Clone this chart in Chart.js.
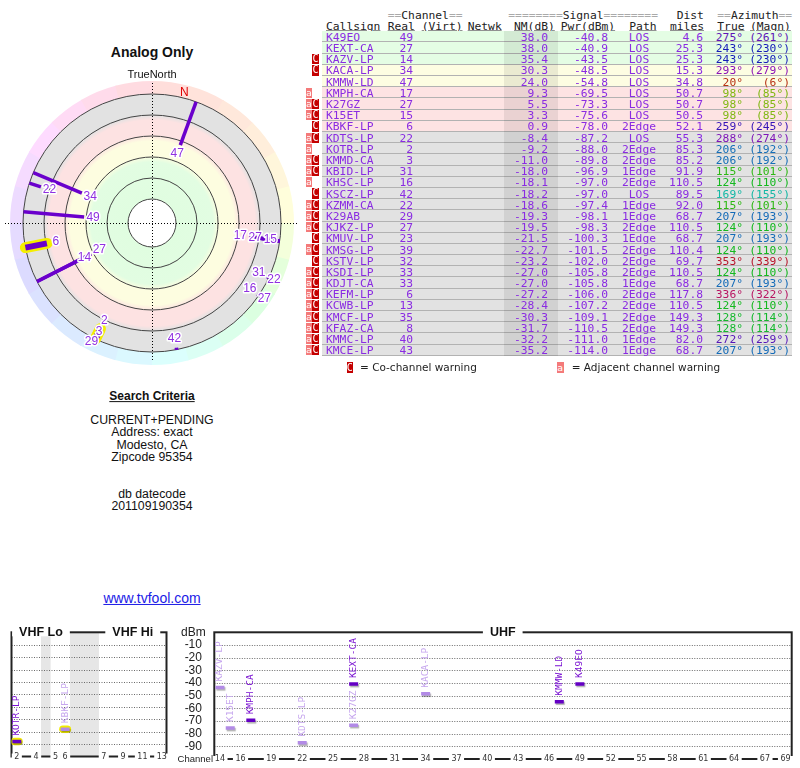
<!DOCTYPE html>
<html>
<head>
<meta charset="utf-8">
<title>Analog Only</title>
<script src="https://cdn.jsdelivr.net/npm/chart.js@4.4.1/dist/chart.umd.min.js"></script>
<style>
  body { margin:0; width:800px; height:768px; overflow:hidden; background:#fff; position:relative;
         font-family:"Liberation Sans", Arial, sans-serif; color:#111; }
  .abs { position:absolute; white-space:pre; line-height:1.15; }
  canvas { position:absolute; }
  .mono { font-family:"DejaVu Sans Mono", monospace; font-size:11.3px; }
</style>
</head>
<body>
<canvas id="radar" width="300" height="300" style="left:2px;top:73px"></canvas>
<canvas id="vhf" width="178" height="148" style="left:0px;top:620px"></canvas>
<canvas id="uhf" width="625" height="148" style="left:175px;top:620px"></canvas>
<script>
// ---- station table ----
const callsigns = ['K49EO','KEXT-CA','KAZV-LP','KACA-LP','KMMW-LD','KMPH-CA','K27GZ','K15ET','KBKF-LP','KDTS-LP',
  'KOTR-LP','KMMD-CA','KBID-LP','KHSC-LP','KSCZ-LP','KZMM-CA','K29AB','KJKZ-LP','KMUV-LP','KMSG-LP',
  'KSTV-LP','KSDI-LP','KDJT-CA','KEFM-LP','KCWB-LP','KMCF-LP','KFAZ-CA','KMMC-LP','KMCE-LP'];
const realCh = [49,27,14,34,47,17,27,15,6,22,2,3,31,16,42,22,29,27,23,39,32,33,33,6,13,35,8,40,43];
const nmDb = [38.0,38.0,35.4,30.3,24.0,9.3,5.5,3.3,0.9,-8.4,-9.2,-11.0,-18.0,-18.1,-18.2,-18.6,-19.3,-19.5,
  -21.5,-22.7,-23.2,-27.0,-27.0,-27.2,-28.4,-30.3,-31.7,-32.2,-35.2];
const pwrDbm = [-40.8,-40.9,-43.5,-48.5,-54.8,-69.5,-73.3,-75.6,-78.0,-87.2,-88.0,-89.8,-96.9,-97.0,-97.0,-97.4,
  -98.1,-98.3,-100.3,-101.5,-102.0,-105.8,-105.8,-106.0,-107.2,-109.1,-110.5,-111.0,-114.0];
const paths = ['LOS','LOS','LOS','LOS','LOS','LOS','LOS','LOS','2Edge','LOS','2Edge','2Edge','1Edge','2Edge','LOS',
  '1Edge','1Edge','2Edge','1Edge','2Edge','2Edge','2Edge','1Edge','2Edge','2Edge','2Edge','2Edge','1Edge','1Edge'];
const distMi = [4.6,25.3,25.3,15.3,34.8,50.7,50.7,50.5,52.1,55.3,85.3,85.2,91.9,110.5,89.5,92.0,68.7,110.5,68.7,
  110.4,69.7,110.5,68.7,117.8,110.5,149.3,149.3,82.0,68.7];
const azTrue = [275,243,243,293,20,98,98,98,259,288,206,206,115,124,169,115,207,124,207,124,353,124,207,336,124,128,128,272,207];
const azMagn = [261,230,230,279,6,85,85,85,245,274,192,192,101,110,155,101,193,110,193,110,339,110,193,322,110,114,114,259,193];
const adjWarn = [0,0,0,0,0,1,1,1,0,1,1,1,1,1,0,1,1,1,0,1,0,1,1,1,1,1,1,1,1];
const coWarn  = [0,0,1,1,0,0,1,1,1,1,0,1,1,0,1,1,1,1,1,1,1,1,1,1,1,1,1,1,1];

// radar rings (noise margin dB) and spectrum axes
const RING_NM = [80, 60, 40, 20, 0, -20];
const SPEC_MIN_NM = -10;
const vhfTicks = [2,4,5,6,7,9,11,13];
const uhfTicks = [14,16,19,22,25,28,31,34,37,40,43,46,49,52,55,58,61,64,67,69];
const dbmTicks = [-10,-20,-30,-40,-50,-60,-70,-80,-90];

// ---- helpers ----
const PURPLE = '#8a2be2';
function put(text, x, y, css, align, html) {
  const d = document.createElement('div');
  d.className = 'abs';
  if (html) d.innerHTML = text; else d.textContent = text;
  d.style.left = x + 'px';
  d.style.top = y + 'px';
  const tx = align === 'r' ? '-100%' : align === 'c' ? '-50%' : '0';
  d.style.transform = 'translate(' + tx + ',-50%)';
  if (css) d.style.cssText += css;
  document.body.appendChild(d);
  return d;
}
function box(x, y, w, h, css) {
  const d = document.createElement('div');
  d.style.cssText = 'position:absolute;left:' + x + 'px;top:' + y + 'px;width:' + w + 'px;height:' + h + 'px;' + css;
  document.body.appendChild(d);
  return d;
}
function azHue(az) {
  const m = [[0,0],[45,25],[90,65],[120,120],[180,185],[240,235],[300,290],[360,360]];
  for (let i = 1; i < m.length; i++) {
    if (az <= m[i][0]) {
      const t = (az - m[i-1][0]) / (m[i][0] - m[i-1][0]);
      return m[i-1][1] + t * (m[i][1] - m[i-1][1]);
    }
  }
  return 0;
}
function rowColor(nm) {
  if (nm >= 35) return '#e4fde4';
  if (nm >= 15) return '#fdfde2';
  if (nm >= 0) return '#fde3e3';
  return '#e2e2e2';
}

// ---- left column texts ----
const LC = 152;
put('Analog Only', LC, 51.5, 'font-weight:bold;font-size:14px;', 'c');
put('TrueNorth', LC, 74, 'font-size:11px;', 'c');
put('Search Criteria', LC, 397, 'font-weight:bold;font-size:12px;text-decoration:underline;', 'c');
['CURRENT+PENDING','Address: exact','Modesto, CA','Zipcode 95354'].forEach((t, i) =>
  put(t, LC, 420 + i * 12.45, 'font-size:12.3px;', 'c'));
put('db datecode', LC, 494, 'font-size:12.3px;', 'c');
put('201109190354', LC, 506.3, 'font-size:12.3px;', 'c');
put('www.tvfool.com', LC, 598, 'font-size:14px;color:#1a1ae6;text-decoration:underline;', 'c');

// ---- station table ----
const ROW_TOP = 31.3, ROW_H = 11.19;
const eq = s => '<span style="color:#aaa">' + s + '</span>';
const H1 = 14.7, H2 = 25.7;
const hcss = 'color:#222;';
put(eq('==') + 'Channel' + eq('=='), 387.7, H1, hcss, 'l', true).classList.add('mono');
put(eq('========') + 'Signal' + eq('========'), 508.3, H1, hcss, 'l', true).classList.add('mono');
put('Dist', 676.7, H1, hcss, 'l').classList.add('mono');
put(eq('==') + 'Azimuth' + eq('=='), 717.3, H1, hcss, 'l', true).classList.add('mono');
[['Callsign',326],['Real',387.7],['(Virt)',421.7],['Netwk',467.7],['NM(dB)',514],['Pwr(dBm)',560.7],
 ['Path',629.3],['miles',670],['True',717.3],['(Magn)',750]].forEach(([t, x]) =>
  put(t, x, H2, hcss + 'text-decoration:underline;', 'l').classList.add('mono'));

callsigns.forEach((cs, i) => {
  const top = ROW_TOP + i * ROW_H;
  box(322, top, 470, ROW_H, 'box-sizing:border-box;border-bottom:1px solid #b2b2b2;background:' + rowColor(nmDb[i]) + ';');
});
box(504, ROW_TOP, 54, callsigns.length * ROW_H, 'background:rgba(0,0,0,0.075);');
callsigns.forEach((cs, i) => {
  const top = ROW_TOP + i * ROW_H, yc = top + ROW_H / 2;
  const tcol = 'color:' + PURPLE + ';';
  const azc = 'color:hsl(' + azHue(azTrue[i]).toFixed(0) + ',80%,40%);';
  put(cs, 326, yc, tcol, 'l').classList.add('mono');
  put(String(realCh[i]), 413, yc, tcol, 'r').classList.add('mono');
  put(nmDb[i].toFixed(1), 548, yc, tcol, 'r').classList.add('mono');
  put(pwrDbm[i].toFixed(1), 608, yc, tcol, 'r').classList.add('mono');
  put(paths[i], 639, yc, tcol, 'c').classList.add('mono');
  put(distMi[i].toFixed(1), 703, yc, tcol, 'r').classList.add('mono');
  put(azTrue[i] + '\u00b0', 743, yc, azc, 'r').classList.add('mono');
  put('(' + azMagn[i] + '\u00b0)', 790, yc, azc, 'r').classList.add('mono');
  if (adjWarn[i]) box(305.5, top + 0.5, 6.5, ROW_H - 1, 'background:#f47a7a;color:#fff;font:9.5px "DejaVu Sans Mono";line-height:' + (ROW_H - 1) + 'px;text-align:center;').textContent = 'a';
  if (coWarn[i]) box(312, top + 0.5, 7, ROW_H - 1, 'background:#c40000;color:#fff;font:10px "DejaVu Sans Mono";line-height:' + (ROW_H - 1) + 'px;text-align:center;').textContent = 'C';
});
box(346.7, 361.5, 6.3, 11, 'background:#c40000;color:#fff;font:10px "DejaVu Sans Mono";line-height:11px;text-align:center;').textContent = 'C';
put('= Co-channel warning', 360, 367, 'font-family:"DejaVu Sans";font-size:10.5px;color:#222;', 'l');
box(556.7, 361.5, 7, 11, 'background:#f47a7a;color:#fff;font:9.5px "DejaVu Sans Mono";line-height:11px;text-align:center;').textContent = 'a';
put('= Adjacent channel warning', 571.7, 367, 'font-family:"DejaVu Sans";font-size:10.5px;color:#222;', 'l');

// ---- radar plot ----
const INNER_NM = RING_NM[0], OUTER_NM = RING_NM[RING_NM.length - 1];
const INNER_R = 24, OUTER_R = 129, RIM_R = 142;
function radiusOf(nm) { return INNER_R + (INNER_NM - nm) * (OUTER_R - INNER_R) / (INNER_NM - OUTER_NM); }
function polar(nm, az) {
  const r = radiusOf(nm), a = az * Math.PI / 180;
  return { x: r * Math.sin(a), y: r * Math.cos(a) };
}
const LINE_PURPLE = '#6a00cc';
const radarSets = [];
callsigns.forEach((cs, i) => {
  if (nmDb[i] < OUTER_NM) return;
  const pts = [polar(nmDb[i], azTrue[i]), polar(OUTER_NM, azTrue[i])];
  const lo = realCh[i] <= 6;
  radarSets.push({ data: pts, showLine: true, pointRadius: 0, borderColor: LINE_PURPLE,
    borderWidth: lo ? 6 : 3.5, order: 1 });
  if (lo) radarSets.push({ data: pts, showLine: true, pointRadius: 0, borderColor: '#f4ee00',
    borderWidth: 11, borderCapStyle: 'round', order: 2 });
});

const radarBackdrop = {
  id: 'radarBackdrop',
  beforeDatasetsDraw(chart) {
    const { ctx, scales: { x, y } } = chart;
    const cx = x.getPixelForValue(0), cy = y.getPixelForValue(0);
    const k = x.getPixelForValue(1) - cx;
    const rad = d => (d - 90) * Math.PI / 180;
    ctx.save();
    for (let a = 0; a < 360; a += 15) {
      ctx.beginPath();
      ctx.arc(cx, cy, RIM_R * k, rad(a), rad(a + 15.5));
      ctx.arc(cx, cy, OUTER_R * k, rad(a + 15.5), rad(a), true);
      ctx.closePath();
      ctx.fillStyle = 'hsl(' + azHue(a + 7.5).toFixed(0) + ',100%,93%)';
      ctx.fill();
    }
    const f = r => (r - INNER_R) / (OUTER_R - INNER_R);
    const g = ctx.createRadialGradient(cx, cy, INNER_R * k, cx, cy, OUTER_R * k);
    g.addColorStop(0, '#e0fde0');
    g.addColorStop(f(61), '#e2fde2');
    g.addColorStop(f(67), '#fdfde0');
    g.addColorStop(f(82), '#fdfde0');
    g.addColorStop(f(88), '#fde2e2');
    g.addColorStop(f(103), '#fde2e2');
    g.addColorStop(f(108), '#e2e2e2');
    g.addColorStop(1, '#e2e2e2');
    ctx.beginPath();
    ctx.arc(cx, cy, OUTER_R * k, 0, 2 * Math.PI);
    ctx.arc(cx, cy, INNER_R * k, 0, 2 * Math.PI, true);
    ctx.fillStyle = g;
    ctx.fill();
    ctx.strokeStyle = '#444';
    ctx.lineWidth = 1;
    RING_NM.forEach(nm => {
      ctx.beginPath();
      ctx.arc(cx, cy, radiusOf(nm) * k, 0, 2 * Math.PI);
      ctx.stroke();
    });
    ctx.setLineDash([1, 2]);
    ctx.strokeStyle = '#000';
    ctx.beginPath();
    ctx.moveTo(cx - 147 * k, cy + 0.5); ctx.lineTo(cx + 145 * k, cy + 0.5);
    ctx.moveTo(cx + 0.5, cy - 140 * k); ctx.lineTo(cx + 0.5, cy + 138 * k);
    ctx.stroke();
    ctx.restore();
  },
  afterDatasetsDraw(chart) {
    const { ctx, scales: { x, y } } = chart;
    const cx = x.getPixelForValue(0), cy = y.getPixelForValue(0);
    const k = x.getPixelForValue(1) - cx;
    ctx.save();
    ctx.font = '12px "Liberation Sans", Arial, sans-serif';
    ctx.textAlign = 'center';
    ctx.textBaseline = 'middle';
    ctx.lineJoin = 'round';
    // magnetic north marker
    const decl = azTrue[0] - azMagn[0];
    const nr = (OUTER_R + 5) * k, na = decl * Math.PI / 180;
    ctx.fillStyle = '#e00000';
    ctx.fillText('N', cx + nr * Math.sin(na), cy - nr * Math.cos(na));
    // channel labels at the tips, pushed outward when they collide
    const idx = callsigns.map((_, i) => i).filter(i => nmDb[i] >= OUTER_NM)
      .sort((a, b) => nmDb[b] - nmDb[a]);
    const placed = [];
    idx.forEach(i => {
      const txt = String(realCh[i]);
      const w = ctx.measureText(txt).width + 1, h = 10;
      const a = azTrue[i] * Math.PI / 180;
      let r = radiusOf(nmDb[i]) - 9, px, py;
      for (let n = 0; n < 80; n++) {
        px = cx + r * k * Math.sin(a);
        py = cy - r * k * Math.cos(a);
        if (!placed.some(b => Math.abs(b.x - px) < (b.w + w) / 2 && Math.abs(b.y - py) < (b.h + h) / 2)) break;
        r += 1;
      }
      placed.push({ x: px, y: py, w, h });
      ctx.lineWidth = 3;
      ctx.strokeStyle = '#fff';
      ctx.strokeText(txt, px, py);
      ctx.fillStyle = '#9030e0';
      ctx.fillText(txt, px, py);
    });
    ctx.restore();
  }
};

new Chart(document.getElementById('radar'), {
  type: 'scatter',
  data: { datasets: radarSets },
  options: {
    responsive: false, animation: false, events: [],
    layout: { padding: 0 },
    plugins: { legend: { display: false }, tooltip: { enabled: false } },
    scales: {
      x: { type: 'linear', min: -150, max: 150, display: false },
      y: { type: 'linear', min: -150, max: 150, display: false }
    }
  },
  plugins: [radarBackdrop]
});

// ---- spectrum panels ----
function vhfSlot(ch) { return ch <= 4 ? ch - 2 : ch <= 6 ? ch - 1 : ch + 2; }
const specVhf = [], specUhf = [];
callsigns.forEach((cs, i) => {
  if (nmDb[i] < SPEC_MIN_NM) return;
  const ch = realCh[i];
  const pt = { x: ch <= 13 ? vhfSlot(ch) : ch, y: pwrDbm[i], name: cs, strong: !coWarn[i], lo: ch <= 6 };
  (ch <= 13 ? specVhf : specUhf).push(pt);
});
function specDatasets(pts) {
  return [
    { data: pts.filter(p => p.lo), pointStyle: 'line', pointRadius: 2.2, borderWidth: 7.5,
      borderColor: '#f2ec00', backgroundColor: '#f2ec00', roundCap: true, order: 3 },
    { data: pts.filter(p => !p.strong), pointStyle: 'line', pointRadius: 4.5, borderWidth: 3.5,
      borderColor: '#b28ae6', backgroundColor: '#b28ae6', shadow: true, labelColor: '#c6a6ee', order: 2 },
    { data: pts.filter(p => p.strong), pointStyle: 'line', pointRadius: 4.5, borderWidth: 3.5,
      borderColor: '#6400c4', backgroundColor: '#6400c4', shadow: true, labelColor: '#7a12d2', order: 1 }
  ];
}

function spectrumPlugin(cfg) {
  return {
    id: 'spectrum_' + cfg.name,
    beforeDatasetsDraw(chart) {
      const { ctx, chartArea: ca, scales: { x, y } } = chart;
      ctx.save();
      ctx.fillStyle = '#e6e6e6';
      cfg.gaps.forEach(([a, b]) => {
        const x0 = x.getPixelForValue(a), x1 = x.getPixelForValue(b);
        ctx.fillRect(x0, ca.top, x1 - x0, ca.bottom - ca.top);
      });
      ctx.strokeStyle = '#6a6a6a';
      ctx.lineWidth = 1;
      ctx.setLineDash([1, 1.5]);
      dbmTicks.forEach(v => {
        const py = Math.round(y.getPixelForValue(v)) + 0.5;
        ctx.beginPath(); ctx.moveTo(ca.left, py); ctx.lineTo(ca.right, py); ctx.stroke();
      });
      ctx.setLineDash([]);
      ctx.strokeStyle = '#222';
      ctx.lineWidth = 2;
      ctx.strokeRect(ca.left, ca.top, ca.right - ca.left, ca.bottom - ca.top);
      ctx.textAlign = 'center';
      ctx.textBaseline = 'middle';
      ctx.font = 'bold 12.5px "Liberation Sans", Arial, sans-serif';
      cfg.titles.forEach(t => {
        const px = (x.getPixelForValue(t.from) + x.getPixelForValue(t.to)) / 2;
        const w = ctx.measureText(t.text).width;
        ctx.fillStyle = '#fff';
        ctx.fillRect(px - w / 2 - 7, ca.top - 4, w + 14, 8);
        ctx.fillStyle = '#111';
        ctx.fillText(t.text, px, ca.top + 0.5);
      });
      ctx.font = '8px "DejaVu Sans", sans-serif';
      cfg.ticks.forEach(ch => {
        const px = x.getPixelForValue(cfg.pos(ch));
        const w = ctx.measureText(String(ch)).width;
        ctx.fillStyle = '#fff';
        ctx.fillRect(px - w / 2 - 2.5, ca.bottom - 3, w + 5, 6);
        ctx.fillStyle = '#333';
        ctx.fillText(String(ch), px, ca.bottom);
      });
      if (cfg.yLabels) {
        const lx = ca.left - 21;
        ctx.font = '12px "Liberation Sans", Arial, sans-serif';
        ctx.fillStyle = '#222';
        ctx.fillText('dBm', lx, ca.top + 0.5);
        dbmTicks.forEach(v => ctx.fillText(String(v), lx, y.getPixelForValue(v)));
        ctx.font = '9.5px "Liberation Sans", Arial, sans-serif';
        ctx.fillText('Channel', ca.left - 19, ca.bottom);
      }
      ctx.restore();
    },
    beforeDatasetDraw(chart, args) {
      const ds = chart.data.datasets[args.index], ctx = chart.ctx;
      ctx.save();
      if (ds.shadow) {
        ctx.shadowColor = 'rgba(0,0,0,0.3)';
        ctx.shadowOffsetX = 1; ctx.shadowOffsetY = 1.5; ctx.shadowBlur = 1;
      }
      if (ds.roundCap) ctx.lineCap = 'round';
    },
    afterDatasetDraw(chart) { chart.ctx.restore(); },
    afterDatasetsDraw(chart) {
      const { ctx, scales: { x, y } } = chart;
      ctx.save();
      ctx.font = '9.5px "DejaVu Sans Mono", monospace';
      ctx.textAlign = 'left';
      ctx.textBaseline = 'middle';
      chart.data.datasets.forEach(ds => {
        if (!ds.labelColor) return;
        ds.data.forEach(p => {
          ctx.save();
          ctx.translate(x.getPixelForValue(p.x), y.getPixelForValue(p.y) - 6);
          ctx.rotate(-Math.PI / 2);
          ctx.fillStyle = ds.labelColor;
          ctx.fillText(p.name, 0, 0);
          ctx.restore();
        });
      });
      ctx.restore();
    }
  };
}

function specChart(id, pts, xMin, xMax, pad, cfg) {
  return new Chart(document.getElementById(id), {
    type: 'scatter',
    data: { datasets: specDatasets(pts) },
    options: {
      responsive: false, animation: false, events: [],
      layout: { padding: pad },
      plugins: { legend: { display: false }, tooltip: { enabled: false } },
      scales: {
        x: { type: 'linear', min: xMin, max: xMax, display: false },
        y: { type: 'linear', min: -100, max: 0, display: false }
      }
    },
    plugins: [spectrumPlugin(cfg)]
  });
}

specChart('vhf', specVhf, -0.55, 15.49, { left: 7, right: 4.7, top: 12.3, bottom: 9 }, {
  name: 'vhf',
  gaps: [[vhfSlot(4) + 0.5, vhfSlot(5) - 0.5], [vhfSlot(6) + 0.5, vhfSlot(7) - 0.5]],
  titles: [{ text: 'VHF Lo', from: vhfSlot(2), to: vhfSlot(6) }, { text: 'VHF Hi', from: vhfSlot(7), to: vhfSlot(13) }],
  ticks: vhfTicks, pos: vhfSlot, yLabels: false
});
specChart('uhf', specUhf, 13.45, 69.6, { left: 39.3, right: 8.3, top: 12.3, bottom: 9 }, {
  name: 'uhf',
  gaps: [],
  titles: [{ text: 'UHF', from: uhfTicks[0], to: uhfTicks[uhfTicks.length - 1] }],
  ticks: uhfTicks, pos: ch => ch, yLabels: true
});
</script>
</body>
</html>
